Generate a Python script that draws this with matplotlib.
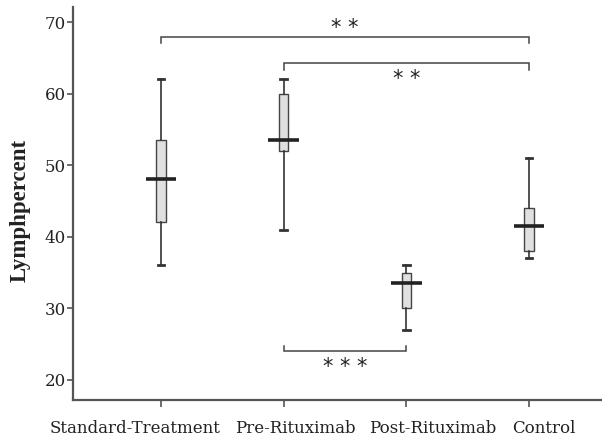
import matplotlib
matplotlib.use("Agg")
import matplotlib.pyplot as plt
from matplotlib.transforms import ScaledTranslation
import numpy as np

# ---- data ----
categories = ["Standard-Treatment", "Pre-Rituximab", "Post-Rituximab", "Control"]
whisker_low = [36.0, 41.0, 27.0, 37.0]
q1 = [42.0, 52.0, 30.0, 38.0]
medians = [48.0, 53.5, 33.5, 41.5]
q3 = [53.5, 60.0, 35.0, 44.0]
whisker_high = [62.0, 62.0, 36.0, 51.0]
yticks = [20, 30, 40, 50, 60, 70]
ylabel = "Lymphpercent"

# significance brackets
brk_left = [0, 1, 1]
brk_right = [3, 3, 2]
brk_level = [67.9, 64.3, 24.1]
brk_tip = [67.1, 63.3, 24.8]
brk_star_y = [69.6, 62.5, 22.2]
brk_label = ["**", "**", "***"]

# ---- figure ----
fig = plt.figure(figsize=(6.02, 4.36), dpi=100)
ax = fig.add_axes([0.1213, 0.0826, 0.8787, 0.9014])

pos = np.arange(len(categories))
stats = []
for i in range(len(categories)):
    stats.append(dict(med=medians[i], q1=q1[i], q3=q3[i],
                      whislo=whisker_low[i], whishi=whisker_high[i],
                      fliers=[], label=categories[i]))

line_col = "#333333"
ax.bxp(stats, positions=pos, widths=0.075, patch_artist=True,
       showfliers=False,
       boxprops=dict(facecolor="#e0e0e0", edgecolor="#444444", linewidth=1.0),
       whiskerprops=dict(color=line_col, linewidth=1.2),
       capprops=dict(color=line_col, linewidth=2.0),
       medianprops=dict(color="none", linewidth=0),
       capwidths=0.055)
# long median bars
ax.hlines(medians, pos - 0.125, pos + 0.125, colors="#222222", linewidth=2.6, zorder=4)

# brackets
star_off = ScaledTranslation(0, -0.03, fig.dpi_scale_trans)
for l, r, lev, tip, sy, lab in zip(brk_left, brk_right, brk_level, brk_tip, brk_star_y, brk_label):
    ax.plot([l, l, r, r], [tip, lev, lev, tip], color="#444444", linewidth=1.1,
            solid_joinstyle="miter")
    ax.text((l + r) / 2, sy, " ".join(lab), ha="center", va="center",
            fontsize=15, color="#222222", family="DejaVu Sans",
            transform=ax.transData + star_off)

ax.set_xlim(-0.717, 3.595)
ax.set_ylim(17.2, 72.1)
ax.set_yticks(yticks)
ax.set_xticks(pos)
ax.set_xticklabels([""] * len(categories))
ax.set_yticklabels([str(v) for v in yticks], family="DejaVu Serif", fontsize=12,
                   color="#222222")

# category labels (shifted as in the reference to avoid overlap)
offsets_px = [-26, 12, 26, 15]
for x, lab, dx in zip(pos, categories, offsets_px):
    tr = ax.get_xaxis_transform() + ScaledTranslation(dx / 100.0, -0.20, fig.dpi_scale_trans)
    ax.text(x, 0, lab, ha="center", va="top", transform=tr,
            family="DejaVu Serif", fontsize=12, color="#222222")

ax.set_ylabel(ylabel, family="Liberation Serif", fontweight="bold", fontsize=16.5,
              color="#222222")
ax.yaxis.set_label_coords(-0.081, 0.483)

for s in ["top", "right"]:
    ax.spines[s].set_visible(False)
for s in ["left", "bottom"]:
    ax.spines[s].set_color("#555555")
    ax.spines[s].set_linewidth(1.6)
ax.tick_params(axis="y", length=4, width=1.2, color="#555555", pad=1)
ax.tick_params(axis="x", length=5, width=1.2, color="#555555", pad=6)

fig.savefig("out.png", dpi=100)
